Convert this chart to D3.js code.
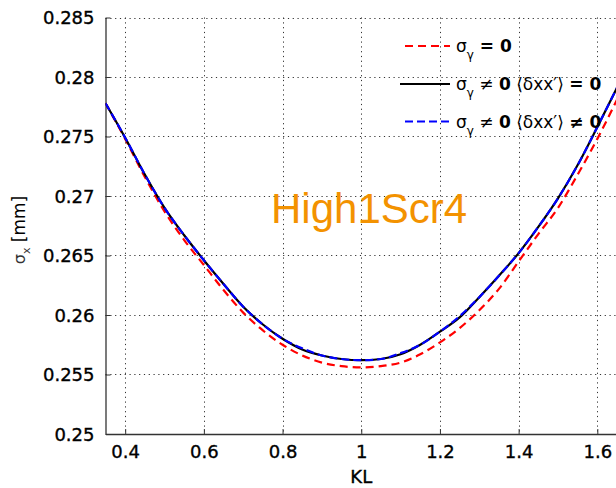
<!DOCTYPE html>
<html>
<head>
<meta charset="utf-8">
<script src="https://cdn.jsdelivr.net/npm/d3@7"></script>
<style>
  html, body { margin: 0; padding: 0; background: #fff; }
  svg { display: block; }
</style>
</head>
<body>
<svg id="chart" width="616" height="488"></svg>
<script>
// ---- data ----
const kl = [0.35, 0.40, 0.45, 0.50, 0.55, 0.60, 0.65, 0.70, 0.75, 0.80, 0.85, 0.90, 0.95, 1.00,
            1.05, 1.10, 1.15, 1.20, 1.25, 1.30, 1.35, 1.40, 1.45, 1.50, 1.55, 1.60, 1.65];
const sigmaNoGamma = [0.2778, 0.2748, 0.2716, 0.2687, 0.2663, 0.2642, 0.2621, 0.2602, 0.2587, 0.2575,
                      0.2566, 0.2560, 0.2557, 0.2556, 0.2557, 0.2560, 0.2567, 0.2577, 0.2589, 0.2604,
                      0.2622, 0.2645, 0.2668, 0.2690, 0.2718, 0.2748, 0.2781];
const sigmaGammaCorr0 = [0.2778, 0.2749, 0.2718, 0.2690, 0.2667, 0.2646, 0.2626, 0.2607, 0.2592, 0.2580,
                         0.2571, 0.2566, 0.2563, 0.2562, 0.2563, 0.2567, 0.2575, 0.2586, 0.2598, 0.2615,
                         0.2633, 0.2652, 0.2674, 0.2698, 0.2726, 0.2758, 0.2791];
const sigmaGammaCorr = [0.2778, 0.2749, 0.2718, 0.2690, 0.2667, 0.2646, 0.2626, 0.2607, 0.2592, 0.2580,
                        0.2572, 0.2566, 0.2563, 0.2562, 0.2563, 0.2568, 0.2575, 0.2586, 0.2599, 0.2615,
                        0.2633, 0.2652, 0.2674, 0.2698, 0.2726, 0.2758, 0.2791];
const xTicks = [0.4, 0.6, 0.8, 1.0, 1.2, 1.4, 1.6];
const xTickLabels = ["0.4", "0.6", "0.8", "1", "1.2", "1.4", "1.6"];
const yTicks = [0.25, 0.255, 0.26, 0.265, 0.27, 0.275, 0.28, 0.285];
const yTickLabels = ["0.25", "0.255", "0.26", "0.265", "0.27", "0.275", "0.28", "0.285"];
const xDomain = [0.35, 1.65];
const yDomain = [0.25, 0.285];
const annotation = "High1Scr4";

// ---- layout ----
const svg = d3.select("#chart");
const L = 105.5, R = 617, T = 17.5, B = 434;
const x = d3.scaleLinear().domain(xDomain).range([L, R]);
const y = d3.scaleLinear().domain(yDomain).range([B, T]);
const font = "'DejaVu Sans', sans-serif";

svg.append("defs").append("clipPath").attr("id", "clip")
  .append("rect").attr("x", L).attr("y", T).attr("width", R - L).attr("height", B - T);

// grid
const grid = svg.append("g").attr("stroke", "#333").attr("stroke-width", 1)
  .attr("stroke-dasharray", "1.2,3.6");
grid.selectAll(".gx").data(xTicks).join("line")
  .attr("x1", d => Math.round(x(d)) + 0.5).attr("x2", d => Math.round(x(d)) + 0.5)
  .attr("y1", T).attr("y2", B);
grid.selectAll(".gy").data(yTicks.slice(1)).join("line")
  .attr("y1", d => Math.round(y(d)) + 0.5).attr("y2", d => Math.round(y(d)) + 0.5)
  .attr("x1", L).attr("x2", R);

// axes (MATLAB style: ticks inward)
const xAxis = d3.axisBottom(x).tickValues(xTicks).tickSizeInner(-5).tickSizeOuter(0)
  .tickPadding(11).tickFormat((d, i) => xTickLabels[i]);
const gx = svg.append("g").attr("transform", `translate(0,${B})`).call(xAxis);
const yAxis = d3.axisLeft(y).tickValues(yTicks).tickSizeInner(-5).tickSizeOuter(0)
  .tickPadding(11).tickFormat((d, i) => yTickLabels[i]);
const gy = svg.append("g").attr("transform", `translate(${L},0)`).call(yAxis);
[gx, gy].forEach(g => {
  g.select(".domain").attr("stroke", "#333").attr("stroke-width", 1.3);
  g.selectAll(".tick line").attr("stroke", "#333");
  g.selectAll(".tick text").attr("font-family", font).attr("font-size", 18).attr("fill", "#000")
    .attr("stroke", "#000").attr("stroke-width", 0.35);
});
gy.selectAll(".tick text").attr("dy", "0.36em");
gx.selectAll(".tick text").attr("dy", "0.72em");

// axis labels
svg.append("text").attr("x", (L + R) / 2).attr("y", 483).attr("text-anchor", "middle")
  .attr("font-family", font).attr("font-size", 18).attr("stroke", "#000").attr("stroke-width", 0.35)
  .text("KL");
const yl = svg.append("text").attr("transform", "translate(25,230) rotate(-90)")
  .attr("text-anchor", "middle").attr("font-family", font).attr("font-size", 17);
yl.append("tspan").attr("font-size", 16).attr("fill", "#333").text("σ");
yl.append("tspan").attr("font-size", 11).attr("dy", 5).attr("fill", "#333").text("x");
yl.append("tspan").attr("dy", -5).text(" [mm]");

// annotation
svg.append("text").attr("x", 271).attr("y", 223).attr("font-family", "'Liberation Sans', Arial, sans-serif")
  .attr("font-size", 42).attr("fill", "#F39200").text(annotation);

// curves
const plot = svg.append("g").attr("clip-path", "url(#clip)");
const line = vals => d3.line().curve(d3.curveMonotoneX)
  .x((d, i) => x(kl[i])).y(d => y(d))(vals);
plot.append("path").attr("d", line(sigmaNoGamma)).attr("fill", "none")
  .attr("stroke", "#ff0000").attr("stroke-width", 2.2).attr("stroke-dasharray", "8,5");
plot.append("path").attr("d", line(sigmaGammaCorr0)).attr("fill", "none")
  .attr("stroke", "#000").attr("stroke-width", 2.2);
plot.append("path").attr("d", line(sigmaGammaCorr)).attr("fill", "none")
  .attr("stroke", "#0000ff").attr("stroke-width", 2.2).attr("stroke-dasharray", "8,4");

// legend
const legend = [
  { color: "#ff0000", dash: "8,5", y: 46, x1: 405, parts: [["σ", "n"], ["γ", "s"], [" = 0", "b"]] },
  { color: "#000", dash: null, y: 84, x1: 400, parts: [["σ", "n"], ["γ", "s"], [" ≠ ", "n"], ["0", "b"], [" ⟨δxx′⟩ ", "n"], ["= 0", "b"]] },
  { color: "#0000ff", dash: "8,4", y: 121.5, x1: 405, parts: [["σ", "n"], ["γ", "s"], [" ≠ ", "n"], ["0", "b"], [" ⟨δxx′⟩ ", "n"], ["≠ 0", "b"]] }
];
legend.forEach(e => {
  svg.append("line").attr("x1", e.x1).attr("x2", 450).attr("y1", e.y).attr("y2", e.y)
    .attr("stroke", e.color).attr("stroke-width", 2.2).attr("stroke-dasharray", e.dash);
  const t = svg.append("text").attr("x", 456).attr("y", e.y + 6)
    .attr("font-family", font).attr("font-size", 17);
  let sub = false;
  e.parts.forEach(([s, k]) => {
    const ts = t.append("tspan").text(s);
    if (k === "s") { ts.attr("font-size", 12).attr("dy", 7); sub = true; }
    else {
      if (sub) { ts.attr("dy", -7); sub = false; }
      if (k === "b") ts.attr("font-weight", "bold");
    }
  });
});
</script>
</body>
</html>
